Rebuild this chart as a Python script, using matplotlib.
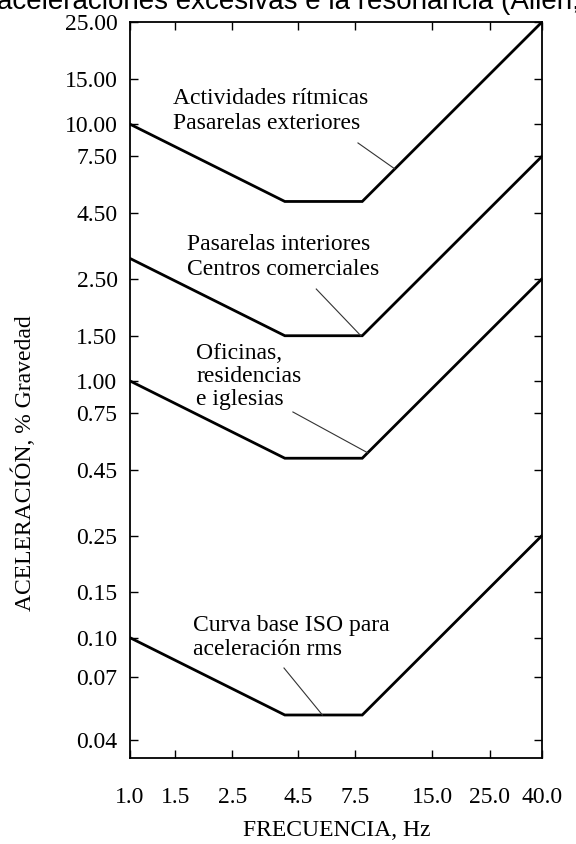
import matplotlib
matplotlib.use("Agg")
import matplotlib.pyplot as plt
import numpy as np

# Limites de aceleracion recomendados (% de la gravedad) en funcion de la frecuencia.
# Cada curva: baja de 1 a 4 Hz, plana de 4 a 8 Hz y sube hasta 40 Hz.
freq = [1.0, 4.0, 8.0, 40.0]
ritmicas = [10.0, 5.0, 5.0, 25.0]
interiores = [3.0, 1.5, 1.5, 7.5]
oficinas = [1.0, 0.5, 0.5, 2.5]
iso_base = [0.1, 0.05, 0.05, 0.25]

x_ticks = [1.0, 1.5, 2.5, 4.5, 7.5, 15.0, 25.0, 40.0]
y_ticks = [0.04, 0.07, 0.10, 0.15, 0.25, 0.45, 0.75, 1.00, 1.50, 2.50, 4.50, 7.50, 10.00, 15.00, 25.00]

# texto de cada curva: (texto, posicion del texto, punta de la linea guia, inicio de la guia)
labels = [
    ("Actividades rítmicas\nPasarelas exteriores", (1.47, 11.3), (10.7, 6.7), (7.7, 8.45), 1.25),
    ("Pasarelas interiores\nCentros comerciales", (1.67, 3.05), (7.9, 1.5), (5.3, 2.28), 1.25),
    ("Oficinas,\nresidencias\ne iglesias", (1.81, 1.04), (8.4, 0.525), (4.3, 0.757), 1.1),
    ("Curva base ISO para\naceleración rms", (1.76, 0.1), (5.6, 0.05), (3.97, 0.0762), 1.2),
]

plt.rcParams['font.family'] = ['Liberation Serif', 'DejaVu Serif']
fs = 17

fig = plt.figure(figsize=(5.76, 8.44), dpi=100)
ax = fig.add_axes([130 / 576, 1 - 758 / 844, 412 / 576, 736 / 844])

for serie in [ritmicas, interiores, oficinas, iso_base]:
    ax.plot(freq, serie, color='black', lw=2.0, solid_joinstyle='miter')

for texto, pos, punta, inicio, ls in labels:
    ax.text(pos[0], pos[1], texto, ha='left', va='center', fontsize=fs, linespacing=ls)
    ax.plot([inicio[0], punta[0]], [inicio[1], punta[1]], color='#333333', lw=0.8)

ax.set_xscale('log')
ax.set_yscale('log')
ax.set_xlim(1.0, 40.0)
ax.set_ylim(0.034, 25.0)
ax.minorticks_off()
ax.set_xticks(x_ticks)
ax.set_xticklabels(['%.1f' % v for v in x_ticks])
ax.set_yticks(y_ticks)
ax.set_yticklabels(['%.2f' % v for v in y_ticks])
ax.tick_params(direction='in', length=6, width=1, top=True, right=True, labelsize=fs)
ax.tick_params(axis='x', pad=21)
ax.tick_params(axis='y', pad=9)
for s in ax.spines.values():
    s.set_linewidth(1.3)

fig.text(337 / 576, 1 - 831 / 844, 'FRECUENCIA, Hz', ha='center', va='center', fontsize=fs)
fig.text(24 / 576, 1 - 463 / 844, 'ACELERACIÓN, % Gravedad', ha='center', va='center',
         rotation=90, fontsize=fs)

# pie de figura, cortado por el borde superior como en la imagen original
fig.text(-3 / 576, 1 - 9 / 844, 'aceleraciones excesivas e la resonancia (Allen, 1990)',
         ha='left', va='baseline', fontsize=20, family='Liberation Sans')

fig.savefig('out.png', dpi=100)
